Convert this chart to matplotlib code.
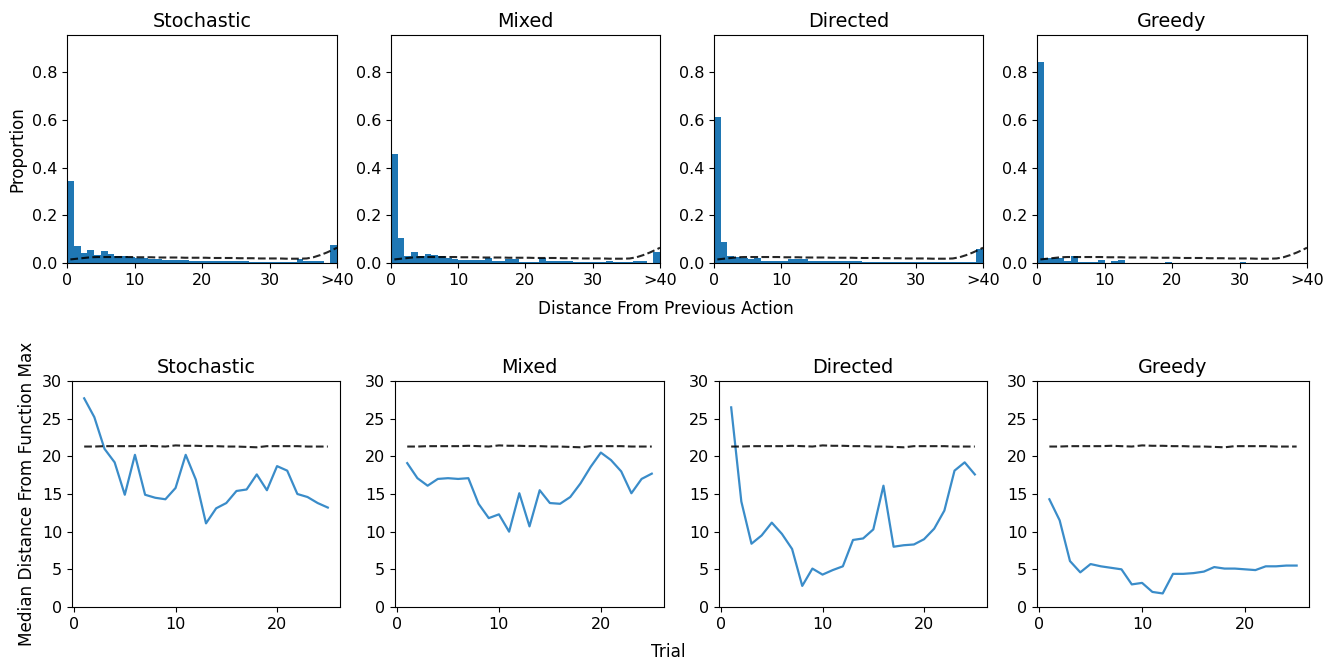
import numpy as np
import matplotlib
matplotlib.use('Agg')
import matplotlib.pyplot as plt

# Strategy names (one column per strategy).
names = ['Stochastic', 'Mixed', 'Directed', 'Greedy']

# Histogram of distance from previous action, 40 bins of width 1 (last bin = >40).
hist_stochastic = [0.345, 0.073, 0.043, 0.056, 0.032, 0.049, 0.039, 0.030, 0.028, 0.027,
                   0.020, 0.020, 0.015, 0.015, 0.014, 0.012, 0.012, 0.012, 0.010, 0.010,
                   0.010, 0.009, 0.009, 0.009, 0.009, 0.008, 0.007, 0.005, 0.005, 0.006,
                   0.005, 0.005, 0.004, 0.005, 0.015, 0.007, 0.008, 0.007, 0.002, 0.077]
hist_mixed = [0.455, 0.106, 0.030, 0.045, 0.030, 0.038, 0.033, 0.030, 0.020, 0.015,
              0.012, 0.012, 0.012, 0.012, 0.020, 0.010, 0.010, 0.015, 0.015, 0.006,
              0.006, 0.006, 0.020, 0.010, 0.010, 0.010, 0.010, 0.005, 0.005, 0.005,
              0.005, 0.005, 0.008, 0.005, 0.005, 0.005, 0.008, 0.008, 0.000, 0.048]
hist_directed = [0.613, 0.088, 0.030, 0.025, 0.020, 0.018, 0.020, 0.010, 0.010, 0.010,
                 0.010, 0.015, 0.015, 0.015, 0.008, 0.008, 0.008, 0.008, 0.008, 0.010,
                 0.010, 0.010, 0.004, 0.004, 0.004, 0.005, 0.005, 0.005, 0.005, 0.005,
                 0.005, 0.005, 0.005, 0.005, 0.005, 0.003, 0.003, 0.003, 0.003, 0.060]
hist_greedy = [0.843, 0.020, 0.020, 0.020, 0.010, 0.030, 0.003, 0.003, 0.003, 0.013,
               0.002, 0.008, 0.012, 0.002, 0.002, 0.002, 0.002, 0.002, 0.002, 0.006,
               0.002, 0.002, 0.002, 0.002, 0.002, 0.002, 0.002, 0.002, 0.002, 0.002,
               0.006, 0.001, 0.001, 0.001, 0.001, 0.001, 0.001, 0.001, 0.001, 0.000]
hists = [hist_stochastic, hist_mixed, hist_directed, hist_greedy]

# Reference (random) distribution, dashed, at bin centres.
ref_dist_x = [0.5, 1.5, 2.5, 3.5, 4.5, 5.5, 6.5, 7.5, 8.5, 9.5,
              10.5, 11.5, 12.5, 13.5, 14.5, 15.5, 16.5, 17.5, 18.5, 19.5,
              20.5, 21.5, 22.5, 23.5, 24.5, 25.5, 26.5, 27.5, 28.5, 29.5,
              30.5, 31.5, 32.5, 33.5, 34.5, 35.5, 36.5, 37.5, 38.5, 39.5, 40.0]
ref_dist_y = [0.015, 0.018, 0.021, 0.024, 0.025, 0.025, 0.025, 0.025, 0.025, 0.025,
              0.024, 0.024, 0.024, 0.023, 0.023, 0.023, 0.023, 0.022, 0.022, 0.022,
              0.022, 0.021, 0.021, 0.021, 0.021, 0.020, 0.020, 0.020, 0.019, 0.019,
              0.019, 0.019, 0.018, 0.018, 0.018, 0.019, 0.024, 0.033, 0.044, 0.057, 0.064]

# Median distance from function max per trial.
trials = list(range(1, 26))
med_stochastic = [27.7, 25.2, 21.0, 19.2, 14.9, 20.2, 14.9, 14.5, 14.3, 15.8,
                  20.2, 16.9, 11.1, 13.1, 13.8, 15.4, 15.6, 17.6, 15.5, 18.7,
                  18.1, 15.0, 14.6, 13.8, 13.2]
med_mixed = [19.1, 17.1, 16.1, 17.0, 17.1, 17.0, 17.1, 13.7, 11.8, 12.3,
             10.0, 15.1, 10.7, 15.5, 13.8, 13.7, 14.6, 16.4, 18.6, 20.5,
             19.5, 18.0, 15.1, 17.0, 17.7]
med_directed = [26.5, 14.0, 8.4, 9.5, 11.2, 9.7, 7.7, 2.8, 5.1, 4.3,
                4.9, 5.4, 8.9, 9.1, 10.3, 16.1, 8.0, 8.2, 8.3, 9.0,
                10.4, 12.8, 18.1, 19.2, 17.6]
med_greedy = [14.3, 11.5, 6.1, 4.6, 5.7, 5.4, 5.2, 5.0, 3.0, 3.2,
              2.0, 1.8, 4.4, 4.4, 4.5, 4.7, 5.3, 5.1, 5.1, 5.0,
              4.9, 5.4, 5.4, 5.5, 5.5]
medians = [med_stochastic, med_mixed, med_directed, med_greedy]

# Random baseline for median distance (dashed).
med_random = [21.3, 21.3, 21.35, 21.35, 21.35, 21.35, 21.4, 21.35, 21.3, 21.45,
              21.4, 21.4, 21.35, 21.35, 21.3, 21.3, 21.25, 21.2, 21.35, 21.35,
              21.35, 21.35, 21.3, 21.3, 21.3]

W, H = 1334, 665
fig = plt.figure(figsize=(W / 100, H / 100), dpi=100)


def px_axes(x0, x1, y0, y1):
    # pixel box (top-left origin) -> figure fraction axes
    return fig.add_axes([x0 / W, 1 - y1 / H, (x1 - x0) / W, (y1 - y0) / H])


top_x = [(67, 337), (391, 660), (714, 983), (1037, 1307)]
bot_x = [(72, 340), (395, 664), (719, 987), (1037, 1309)]

edges = np.arange(41)
for i, name in enumerate(names):
    ax = px_axes(top_x[i][0], top_x[i][1], 35, 263)
    ax.bar(edges[:-1], hists[i], width=1, align='edge', color='#1f77b4')
    ax.plot(ref_dist_x, ref_dist_y, 'k--', lw=1.5, alpha=0.85)
    ax.set_xlim(0, 40)
    ax.set_ylim(0, 0.955)
    ax.set_xticks([0, 10, 20, 30, 40])
    ax.set_xticklabels(['0', '10', '20', '30', '>40'])
    ax.set_yticks([0, 0.2, 0.4, 0.6, 0.8])
    ax.set_title(name, fontsize=13.8)
    ax.tick_params(labelsize=11.5)
    if i == 0:
        ax.set_ylabel('Proportion', fontsize=12)

for i, name in enumerate(names):
    ax = px_axes(bot_x[i][0], bot_x[i][1], 381, 607)
    ax.plot(trials, medians[i], color='#3a8cc9', lw=1.6)
    ax.plot(trials, med_random, 'k--', lw=1.5, alpha=0.85)
    ax.set_ylim(0, 30)
    ax.set_xticks([0, 10, 20])
    ax.set_yticks([0, 5, 10, 15, 20, 25, 30])
    ax.set_title(name, fontsize=13.8)
    ax.tick_params(labelsize=11.5)
    if i == 0:
        ax.set_ylabel('Median Distance From Function Max', fontsize=12.2)

fig.text(666 / W, 1 - 309 / H, 'Distance From Previous Action', ha='center', va='center', fontsize=12.2)
fig.text(668 / W, 1 - 652 / H, 'Trial', ha='center', va='center', fontsize=12.2)

fig.savefig('out.png', dpi=100)
